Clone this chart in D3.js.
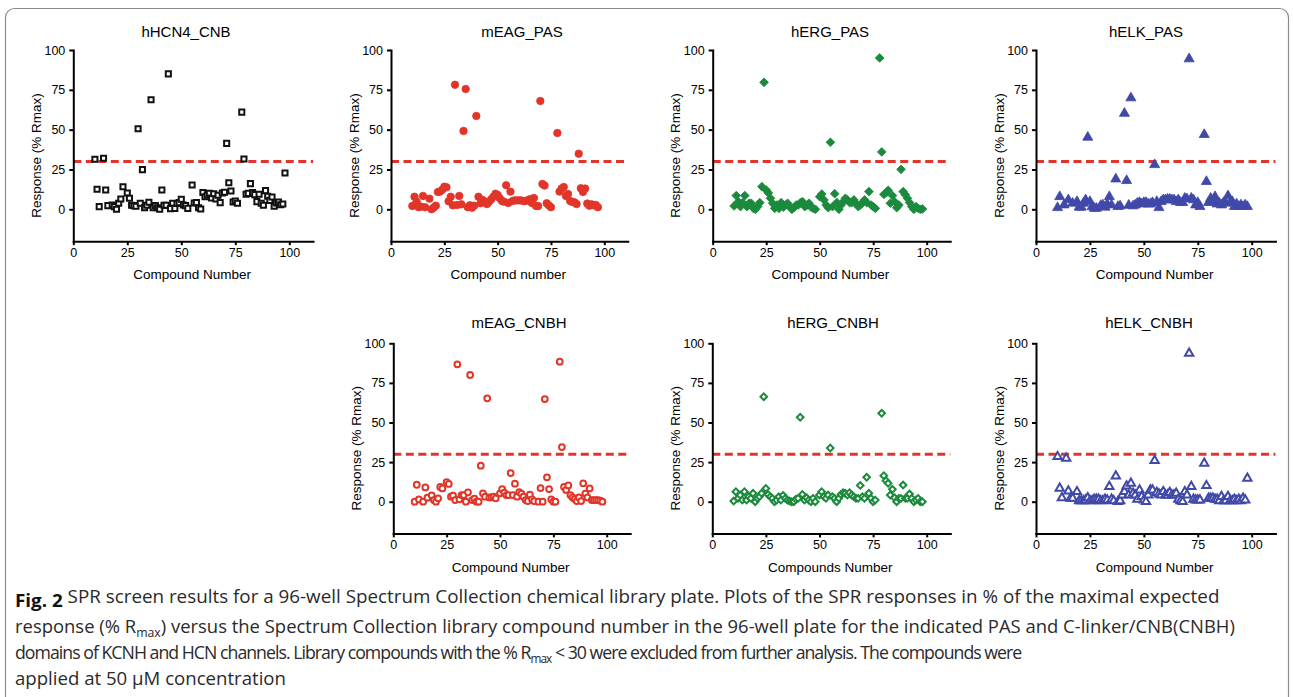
<!DOCTYPE html>
<html><head><meta charset="utf-8">
<script src="https://cdn.jsdelivr.net/npm/d3@7"></script>
<style>
html,body{margin:0;padding:0;background:#fff;}
svg{display:block;}
.axis .domain{stroke:#000;stroke-width:2;stroke-linecap:square;}
.axis .tick line{stroke:#000;stroke-width:2;}
.axis .tick text{font-family:"Liberation Sans",Arial,sans-serif;font-size:12.5px;fill:#000;}
</style></head><body>
<svg id="fig" width="1293" height="697"></svg>
<script>
// ---------------- data ----------------
const xTicks = [0, 25, 50, 75, 100];
const yTicks = [0, 25, 50, 75, 100];
const threshold = 30;

const hHCN4_CNB_compound = [10,11,12,14,15,16,18,19,20,21,22,23,25,26,27,28,29,30,31,32,33,34,35,36,37,38,39,40,41,42,43,44,45,46,47,48,49,50,51,52,53,55,56,57,58,59,60,61,62,63,64,65,66,67,68,69,70,71,72,73,74,75,76,78,79,80,81,82,83,84,85,86,87,88,89,90,91,92,93,94,95,96,97,98];
const hHCN4_CNB_response = [31.4,12.6,1.7,32,12.1,2.3,2.7,1.7,0,3.8,6.5,14.2,10.2,6.9,2.5,2.3,1.9,50.6,3.8,24.9,1,2.5,4.4,68.8,1,2.3,1,0,12.1,2.5,2.5,85,0.4,3.8,0.6,3.6,4.2,6.3,2.7,2.3,0.6,15.3,4,4.2,1,0.2,10.5,7.9,9,10,7.1,9.8,6.5,8.8,4.2,10.2,10.7,41.4,16.7,11.5,4.6,5.2,3.8,61,31.6,9.4,10,16.1,10.5,9.2,4.8,9.4,3.8,2.5,11.7,8.2,5.6,7.7,1.9,4,4.6,2.9,3.3,22.8];

const mEAG_PAS_compound = [10,11,12,13,14,15,16,18,19,20,21,22,23,24,25,26,27,28,29,30,31,32,33,34,35,36,37,38,39,40,41,42,43,44,45,46,47,48,49,50,51,52,53,54,55,56,57,58,59,60,61,62,63,64,65,66,67,68,69,70,71,72,73,74,75,78,79,80,81,82,83,84,85,86,87,88,89,90,91,92,93,94,95,96,97];
const mEAG_PAS_response = [2.1,7.9,4.8,1.3,1.7,8.4,1.3,6.7,0,1,2.3,10.9,11.1,12.3,14.2,13.8,5,7.9,2.5,78.2,2.7,8.4,3.1,49.2,75.5,1.3,2.5,1,2.3,58.6,7.9,3.8,5.9,4.8,3.3,4.8,6.3,7.9,9.8,9,6.9,5.2,4.8,15.1,4,11.1,5.2,5.6,5.6,5.6,5.6,5.2,5.2,5.6,6.3,4,7.1,2.1,2.1,68,15.9,14.9,3.8,2.5,1.3,47.9,11.1,13,14,8.4,9.6,5.2,4.6,4.4,3.3,34.9,13.2,10.9,13,3.6,2.3,3.1,2.5,2.7,1.3];

const hERG_PAS_compound = [10,11,12,13,14,15,16,17,18,19,20,21,22,23,24,25,26,27,28,29,30,31,32,33,34,35,36,37,38,39,40,41,42,43,44,45,46,47,48,50,51,52,53,54,55,56,57,58,59,60,61,62,63,64,65,66,67,68,69,70,71,72,73,74,75,76,78,79,80,81,82,83,84,85,86,87,88,89,90,91,92,93,94,95,96,97,98];
const hERG_PAS_response = [2.1,8.6,4.8,1.7,4.2,8.6,1.7,3.8,3.8,0.6,0,1.7,4.2,14.2,79.7,12.1,10.3,6.9,3.8,0.6,2.7,0.6,4.2,1.3,2.7,3.8,1.7,0,1,2.7,2.7,4.2,4.8,1.7,2.5,3.8,1.3,0.6,0,7.9,9.6,5.9,2.7,1,42.1,1.7,9.8,4.2,0,2.7,4.8,6.9,5.9,4.2,4.2,5.9,3.8,1.7,2.7,4.2,5.9,4.2,11.1,2.7,1.7,0.6,95,36,9.4,10.3,11.9,3.8,8.6,4.8,1,2.7,25.1,11.1,9.2,6.9,4.2,1.7,0,1.7,0.6,0,0.2];

const hELK_PAS_compound = [10,11,13,15,17,19,20,21,22,23,24,25,26,27,28,30,31,32,33,34,35,37,38,39,41,42,43,44,45,46,47,48,49,50,51,52,53,54,55,56,57,58,59,60,61,62,63,64,65,66,67,68,69,70,71,72,73,74,75,76,78,79,80,81,82,83,84,85,86,87,88,89,90,91,92,93,94,95,96,97,98];
const hELK_PAS_response = [1,7.9,2.7,5.9,3.8,4.8,1.3,1.3,3.8,5.9,45.2,4.8,1.7,0.6,0.6,2.3,2.7,1.3,3.1,7.9,2.7,19,1.7,2.1,60.2,18,2.5,69.9,2.1,2.7,3.8,4.2,3.3,4.2,4.2,3.3,3.3,4.2,28,4.8,1,4.8,5.9,5.9,6.3,6.3,5.9,5.9,4.8,5.9,4.2,4.2,6.9,6.5,94.4,6.9,5.9,2.7,4.2,1.7,46.9,17.4,4.2,6.9,4.8,7.9,3.3,3.8,2.7,4.2,3.8,8.4,4.2,4.8,1.7,3.3,1.7,2.7,1.7,2.7,1.7];

const mEAG_CNBH_compound = [10,11,12,14,15,16,18,19,20,21,22,23,25,26,27,28,29,30,31,32,33,34,35,36,37,38,39,40,41,42,43,44,45,46,47,48,50,51,52,53,54,55,56,57,58,59,60,61,62,63,64,65,66,68,69,70,71,72,73,74,75,76,78,79,80,81,82,83,84,85,86,87,88,89,90,91,92,93,94,95,96,97,98];
const mEAG_CNBH_response = [0,10.7,1.5,0,9,2.5,4,1,0,2.1,9.3,8.4,12.4,11.2,3.2,3.8,1,86.7,1.5,4.2,4.2,0,5.9,80,1,1.9,0,0,22.7,5.3,3.2,65.3,2.7,2.7,3.2,2.1,5.3,8,5.7,4.2,4.2,18.1,4.2,11.4,3.2,6.1,5.1,3.2,1,0.4,4.4,1.5,0.4,0,8.6,0,64.8,15.4,8,1.5,0,0,88.4,34.5,9.3,7.4,10.3,4.2,2.7,1.7,0.4,2.7,0.4,11.6,5.1,2.7,8.4,1,1,1,1,0.6,0];

const hERG_CNBH_compound = [10,11,12,13,14,15,16,17,18,19,20,21,22,23,24,25,26,27,28,29,30,31,32,33,34,35,36,37,38,39,40,41,42,43,44,45,46,47,48,50,51,52,53,54,55,56,57,58,59,60,61,62,63,64,65,66,67,68,69,70,71,72,73,74,75,76,79,80,81,82,83,84,85,86,87,88,89,90,91,92,93,94,95,96,97,98];
const hERG_CNBH_response = [0.4,6.3,2.1,4.2,1,6.3,1,3.2,2.1,5.3,0,2.1,3.2,5.3,66.3,8.4,4.6,3.2,2.1,0,1,3.2,1,4,2.1,1,0.4,0,0,1.5,2.1,53.3,4.6,1,2.5,1,0,2.1,0,4.2,6.3,3.2,2.1,4.2,33.9,3.2,2.1,0,2.1,4.6,5.7,5.3,4.2,5.7,4.2,3.2,2.1,2.1,10.3,3.2,2.1,15.4,5.3,2.1,0,1,55.8,16.4,13.3,11.6,4.2,7.8,2.5,0,2.1,2.1,10.5,2.1,2.1,4.8,2.1,0,1,2.1,0,0];

const hELK_CNBH_compound = [10,11,12,14,15,16,17,19,20,21,22,23,24,25,26,27,28,29,30,31,32,33,34,35,36,37,38,39,40,41,42,43,44,45,46,47,48,49,50,51,52,53,54,55,56,57,58,59,60,61,62,63,64,65,66,67,68,69,70,71,72,73,74,75,76,78,79,80,81,82,83,84,85,86,87,88,89,90,91,92,93,94,95,96,97,98];
const hELK_CNBH_response = [28.4,8.4,2.5,27.4,6.7,2.1,2.1,6.3,0.6,0.6,0.6,1,2.5,0.6,0.6,1.5,1.5,1.5,0.6,0.6,1.5,1,9.5,1.5,0.6,16.2,0,0.6,4.2,6.3,9.9,4.2,11.6,5.3,4.2,1.5,7.4,3.2,1,0,4.2,7.4,7.4,25.9,5.7,4.8,4.2,6.3,4.2,4.2,5.7,4.2,4.2,5.3,1.5,0.6,0,6.3,4.2,93.7,9.5,1.5,1,1,1,24.2,10.1,2.1,2.1,2.1,1.5,1.5,0.6,3.2,0.6,0.6,3.2,0.6,0.6,1.5,0.6,1.5,0.6,2.1,1,14.7];

const panelTitles = ["hHCN4_CNB","mEAG_PAS","hERG_PAS","hELK_PAS","mEAG_CNBH","hERG_CNBH","hELK_CNBH"];
const xAxisLabels = ["Compound Number","Compound number","Compound Number","Compound Number","Compound Number","Compounds Number","Compound Number"];
const yAxisLabel = "Response (% Rmax)";

// ---------------- styles / layout ----------------
const C_BLACK = "#111", C_RED = "#e2352a", C_GREEN = "#1b8a3c", C_BLUE = "#4049a8", C_LINE = "#e3342b";
const panels = [
  {title:panelTitles[0], xl:xAxisLabels[0], cx:hHCN4_CNB_compound, cy:hHCN4_CNB_response, shape:"square",  color:C_BLACK, open:true},
  {title:panelTitles[1], xl:xAxisLabels[1], cx:mEAG_PAS_compound,  cy:mEAG_PAS_response,  shape:"circle",  color:C_RED,   open:false},
  {title:panelTitles[2], xl:xAxisLabels[2], cx:hERG_PAS_compound,  cy:hERG_PAS_response,  shape:"diamond", color:C_GREEN, open:false},
  {title:panelTitles[3], xl:xAxisLabels[3], cx:hELK_PAS_compound,  cy:hELK_PAS_response,  shape:"triangle",color:C_BLUE,  open:false},
  {title:panelTitles[4], xl:xAxisLabels[4], cx:mEAG_CNBH_compound, cy:mEAG_CNBH_response, shape:"circle",  color:C_RED,   open:true},
  {title:panelTitles[5], xl:xAxisLabels[5], cx:hERG_CNBH_compound, cy:hERG_CNBH_response, shape:"diamond", color:C_GREEN, open:true},
  {title:panelTitles[6], xl:xAxisLabels[6], cx:hELK_CNBH_compound, cy:hELK_CNBH_response, shape:"triangle",color:C_BLUE,  open:true}
];
const layout = [
  {x0:73.3,  x100:289.3,  yTop:50,    yZero:209.3, titleX:186,  titleY:31,  xlY:274},
  {x0:391,   x100:604.3,  yTop:50,    yZero:209.3, titleX:522,  titleY:31,  xlY:274},
  {x0:712.7, x100:926.7,  yTop:50,    yZero:209.3, titleX:830,  titleY:31,  xlY:274},
  {x0:1036,  x100:1251.7, yTop:50,    yZero:209.3, titleX:1146, titleY:31,  xlY:274},
  {x0:393.3, x100:606.7,  yTop:343.3, yZero:501.7, titleX:519,  titleY:322, xlY:567},
  {x0:712.3, x100:926.7,  yTop:343.3, yZero:501.7, titleX:833,  titleY:322, xlY:567},
  {x0:1036,  x100:1251.7, yTop:343.3, yZero:501.7, titleX:1149, titleY:322, xlY:567}
];

const svg = d3.select("#fig");
svg.append("rect").attr("x",5.5).attr("y",8.5).attr("width",1283).attr("height",740)
   .attr("rx",9).attr("fill","none").attr("stroke","#8a8a8a").attr("stroke-width",1.2);

const FONT = "'Liberation Sans', Arial, sans-serif";

function symbolFor(p){
  if(p.shape==="square") return d3.symbol().type(d3.symbolSquare).size(p.open?26:36);
  if(p.shape==="circle") return d3.symbol().type(d3.symbolCircle).size(p.open?26:44);
  if(p.shape==="diamond") return d3.symbol().type(d3.symbolSquare).size(p.open?22:38);
  return d3.symbol().type(d3.symbolTriangle).size(p.open?30:44);
}

panels.forEach((p,i)=>{
  const L = layout[i];
  const unit = (L.x100 - L.x0)/100;
  const x = d3.scaleLinear().domain([0,111]).range([L.x0, L.x0 + 111*unit]);
  const yUnit = (L.yZero - L.yTop)/100;
  const y = d3.scaleLinear().domain([-20,100]).range([L.yZero + 20*yUnit, L.yTop]);
  const g = svg.append("g");

  g.append("line").attr("x1",x(0)).attr("x2",x(111)).attr("y1",y(threshold)).attr("y2",y(threshold))
    .attr("stroke",C_LINE).attr("stroke-width",3).attr("stroke-dasharray","8,4.5");

  g.append("g").attr("class","axis").attr("transform",`translate(0,${y(-20)})`)
    .call(d3.axisBottom(x).tickValues(xTicks).tickSize(4).tickPadding(3).tickSizeOuter(0));
  g.append("g").attr("class","axis").attr("transform",`translate(${x(0)},0)`)
    .call(d3.axisLeft(y).tickValues(yTicks).tickSize(4).tickPadding(4).tickSizeOuter(0));

  const sym = symbolFor(p);
  const pts = p.cx.map((c,k)=>({c, r:p.cy[k]}));
  g.append("g").selectAll("path").data(pts).join("path")
    .attr("d", sym)
    .attr("transform", d => `translate(${x(d.c)},${y(d.r)})` + (p.shape==="diamond" ? " rotate(45)" : ""))
    .attr("fill", p.open ? "#fff" : p.color)
    .attr("stroke", p.color)
    .attr("stroke-width", p.open ? 2 : 0.8)
    .attr("stroke-linejoin","miter");

  g.append("text").attr("x",L.titleX).attr("y",L.titleY).attr("text-anchor","middle")
    .attr("dominant-baseline","central").attr("font-family",FONT).attr("font-size",15).text(p.title);
  g.append("text").attr("x",x(55)).attr("y",L.xlY).attr("text-anchor","middle")
    .attr("dominant-baseline","central").attr("font-family",FONT).attr("font-size",13.5).text(p.xl);
  const yc = (y(-20)+y(100))/2 + 10;
  g.append("text").attr("transform",`translate(${x(0)-37},${yc}) rotate(-90)`).attr("text-anchor","middle")
    .attr("dominant-baseline","central").attr("font-family",FONT).attr("font-size",13.5).text(yAxisLabel);
});

// ---------------- caption ----------------
const CAP_FONT = "'Open Sans','Noto Sans',sans-serif";
const cap = svg.append("g").attr("font-family",CAP_FONT).attr("font-size",18).attr("fill","#2a2a2a");
const capLines = [
  {yb:607, w:1205, parts:[{t:"Fig. 2",b:true},{t:" SPR screen results for a 96-well Spectrum Collection chemical library plate. Plots of the SPR responses in % of the maximal expected"}]},
  {yb:633, w:1220, parts:[{t:"response (% R"},{t:"max",sub:true},{t:") versus the Spectrum Collection library compound number in the 96-well plate for the indicated PAS and C-linker/CNB(CNBH)"}]},
  {yb:659, w:1008, parts:[{t:"domains of KCNH and HCN channels. Library compounds with the % R"},{t:"max",sub:true},{t:" < 30 were excluded from further analysis. The compounds were"}]},
  {yb:685, w:null, parts:[{t:"applied at 50 µM concentration"}]}
];
function buildLine(cl){
  const t = cap.append("text").attr("x",0).attr("y",0);
  cl.parts.forEach(pt=>{
    const s = t.append("tspan").text(pt.t);
    if(pt.b) s.attr("font-weight","bold").attr("fill","#111");
    if(pt.sub) s.attr("font-size",12).attr("dy",4);
    else if(s.node().previousSibling) s.attr("dy",-4);
  });
  return t;
}
const scales = [];
const nodes = capLines.map(cl=>{
  const t = buildLine(cl);
  let w = t.node().getBBox().width;
  if(cl.w && cl.w / w < 0.97){
    // tighten spacing first so glyphs keep their proportions
    const nChars = cl.parts.reduce((a,p)=>a+p.t.length,0);
    const ls = (cl.w/0.985 - w) / nChars;
    t.attr("letter-spacing", ls.toFixed(3));
    w = t.node().getBBox().width;
  } else if(cl.w) {
    scales.push(cl.w / w);
  }
  return {t, cl, w};
});
const avgScale = d3.mean(scales);
nodes.forEach(n=>{
  const sx = n.cl.w ? n.cl.w / n.w : avgScale;
  n.t.attr("transform",`translate(15,${n.cl.yb}) scale(${sx},1)`);
});
</script>
</body></html>
